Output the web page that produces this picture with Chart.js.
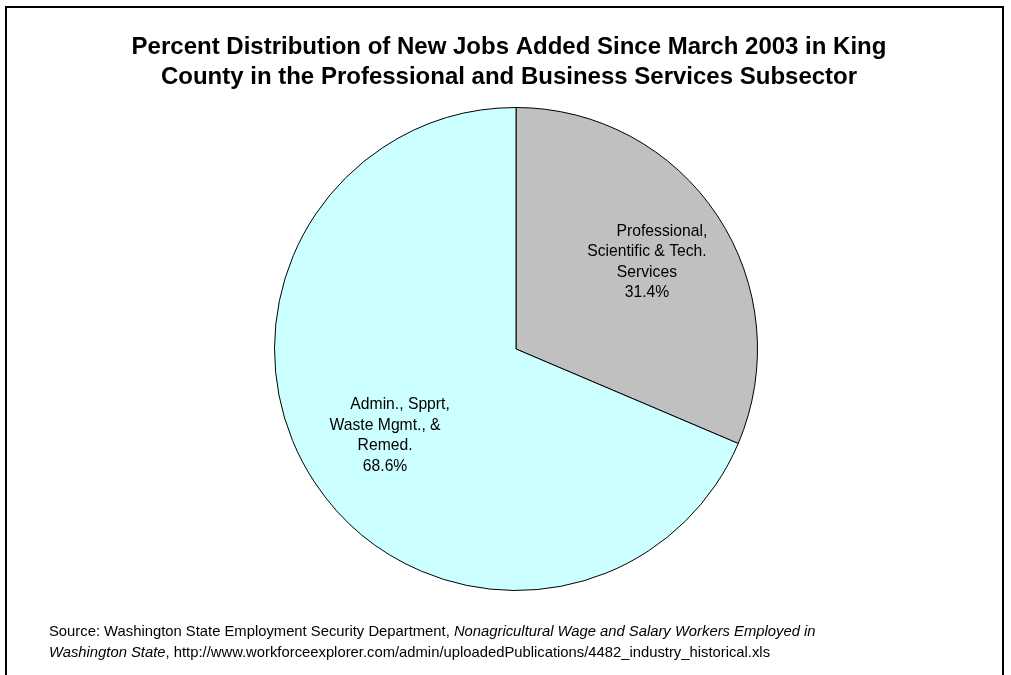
<!DOCTYPE html>
<html>
<head>
<meta charset="utf-8">
<script src="https://cdn.jsdelivr.net/npm/chart.js@4"></script>
<style>
  html, body { margin: 0; padding: 0; background: #fff; }
  #wrap { width: 1011px; height: 675px; }
</style>
</head>
<body>
<div id="wrap"><canvas id="myChart" width="1011" height="675"></canvas></div>
<script>
// job growth shares by subsector
const categories = [
    ["Professional,", "Scientific & Tech.", "Services"],
    ["Admin., Spprt,", "Waste Mgmt., &", "Remed."]
];
const shares = [31.4, 68.6];
const sliceColors = ["#C0C0C0", "#CCFFFF"];

const titleLines = [
    "Percent Distribution of New Jobs Added Since March 2003 in King",
    "County in the Professional and Business Services Subsector"
];

const FONT = "'Liberation Sans', Arial, sans-serif";

// frame, title and source note
const decorPlugin = {
    id: "decor",
    beforeDraw(chart) {
        const c = chart.ctx;
        c.save();
        c.fillStyle = "#fff";
        c.fillRect(0, 0, chart.width, chart.height);
        c.strokeStyle = "#000";
        c.lineWidth = 2;
        c.beginPath();
        c.moveTo(6, chart.height + 2);
        c.lineTo(6, 7);
        c.lineTo(1003, 7);
        c.lineTo(1003, chart.height + 2);
        c.stroke();
        c.restore();
    },
    afterDraw(chart) {
        const c = chart.ctx;
        c.save();
        c.fillStyle = "#000";
        c.textAlign = "center";
        c.textBaseline = "middle";
        c.font = "bold 24px " + FONT;
        titleLines.forEach((t, i) => c.fillText(t, 509, 47 + i * 30));

        // source, with the publication name in italics
        const parts1 = [
            ["Source: Washington State Employment Security Department, ", false],
            ["Nonagricultural Wage and Salary Workers Employed in", true]
        ];
        const parts2 = [
            ["Washington State", true],
            [", http://www.workforceexplorer.com/admin/uploadedPublications/4482_industry_historical.xls", false]
        ];
        c.textAlign = "left";
        [[parts1, 632], [parts2, 653]].forEach(([parts, y]) => {
            let x = 49;
            parts.forEach(([txt, it]) => {
                c.font = (it ? "italic " : "") + "14.8px " + FONT;
                c.fillText(txt, x, y);
                x += c.measureText(txt).width;
            });
        });
        c.restore();
    }
};

// category name + percent inside each slice
const sliceLabels = {
    id: "sliceLabels",
    afterDatasetsDraw(chart) {
        const c = chart.ctx;
        const meta = chart.getDatasetMeta(0);
        c.save();
        c.fillStyle = "#000";
        c.font = "15.7px " + FONT;
        c.textAlign = "center";
        c.textBaseline = "middle";
        meta.data.forEach((arc, i) => {
            const p = arc.getProps(["x", "y", "startAngle", "endAngle", "outerRadius"], true);
            const mid = (p.startAngle + p.endAngle) / 2;
            const r = p.outerRadius * 0.65;
            const cx = p.x + Math.cos(mid) * r;
            const cy = p.y + Math.sin(mid) * r;
            const lines = categories[i].concat([shares[i].toFixed(1) + "%"]);
            const lh = 20.5;
            const top = cy - (lines.length - 1) * lh / 2;
            lines.forEach((ln, j) => {
                const dx = j === 0 ? 15 : 0;
                c.fillText(ln, cx + dx, top + j * lh);
            });
        });
        c.restore();
    }
};

new Chart(document.getElementById("myChart"), {
    type: "pie",
    data: {
        labels: categories.map((l) => l.join(" ")),
        datasets: [{
            data: shares,
            backgroundColor: sliceColors,
            borderColor: "#000",
            borderWidth: 1
        }]
    },
    options: {
        responsive: false,
        animation: false,
        events: [],
        layout: { padding: { top: 107, bottom: 84, left: 274, right: 253 } },
        plugins: {
            legend: { display: false },
            title: { display: false },
            tooltip: { enabled: false }
        }
    },
    plugins: [decorPlugin, sliceLabels]
});
</script>
</body>
</html>
